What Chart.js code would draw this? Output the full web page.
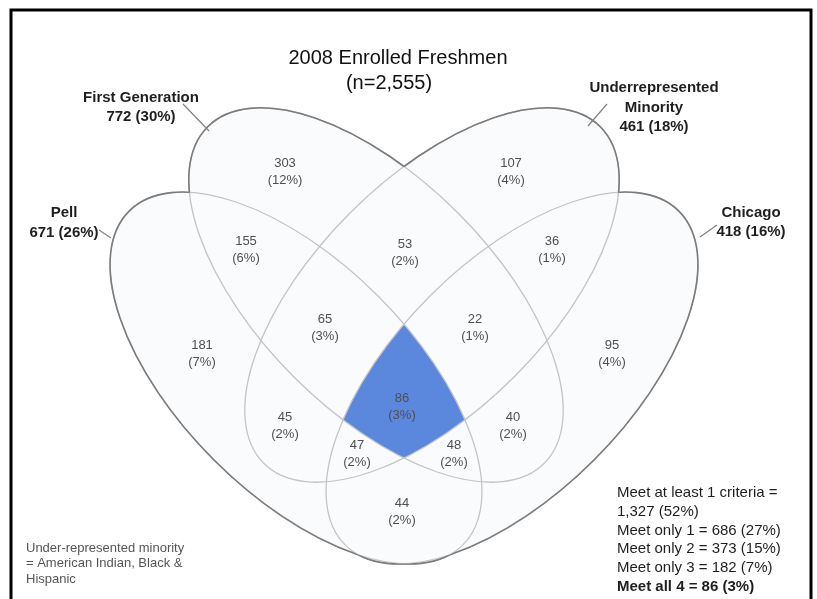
<!DOCTYPE html>
<html>
<head>
<meta charset="utf-8">
<script src="https://cdn.jsdelivr.net/npm/chart.js@4.4.0/dist/chart.umd.min.js"></script>
<style>
  body { margin: 0; background: #fff; }
  #wrap { width: 817px; height: 599px; }
</style>
</head>
<body>
<div id="wrap"><canvas id="venn" width="817" height="599"></canvas></div>
<script>
// 2008 enrolled freshmen, four overlapping groups
const total = 2555;

const setNames = [['Pell'], ['First Generation'], ['Underrepresented', 'Minority'], ['Chicago']];
const setCounts = [671, 772, 461, 418];

// P = Pell, F = First Generation, U = Underrepresented Minority, C = Chicago
const regionNames = ['P', 'F', 'U', 'C', 'PF', 'FU', 'UC', 'PFU', 'FUC', 'PU', 'PFUC', 'FC', 'PUC', 'PFC', 'PC'];
const regionCounts = [181, 303, 107, 95, 155, 53, 36, 65, 22, 45, 86, 40, 47, 48, 44];

const summaryLabels = ['Meet at least 1 criteria', 'Meet only 1', 'Meet only 2', 'Meet only 3', 'Meet all 4'];
const summaryCounts = [1327, 686, 373, 182, 86];

const footnote = ['Under-represented minority', '= American Indian, Black &', 'Hispanic'];

// layout (canvas units, y grows downward)
const regionX = [202, 285, 511, 612, 246, 405, 552, 325, 475, 285, 402, 513, 357, 454, 402];
const regionY = [353, 171, 171, 353, 249, 252, 249, 327, 327, 425, 406, 425, 453, 453, 511];

const ellipses = [
  { cx: 296, cy: 378, rx: 236, ry: 116, rot: 45 },   // Pell
  { cx: 376, cy: 295, rx: 238, ry: 116, rot: 45 },   // First Generation
  { cx: 432, cy: 295, rx: 238, ry: 116, rot: -45 },  // Underrepresented Minority
  { cx: 512, cy: 378, rx: 236, ry: 116, rot: -45 }   // Chicago
];

const setLabelPos = [
  { x: 64, y: [213, 233] },
  { x: 141, y: [98, 117] },
  { x: 654, y: [88, 108, 127] },
  { x: 751, y: [213, 232] }
];
const leaders = [
  [99, 230, 111, 238],
  [183, 104, 209, 131],
  [607, 104, 588, 126],
  [717, 225, 700, 237]
];

const pct = v => Math.round(v / total * 100);
const FONT = '"Liberation Sans", Arial, sans-serif';

function ellipsePath(ctx, chart, e) {
  const xs = chart.scales.x, ys = chart.scales.y;
  const cx = xs.getPixelForValue(e.cx), cy = ys.getPixelForValue(e.cy);
  const rx = Math.abs(xs.getPixelForValue(e.cx + e.rx) - cx);
  const ry = Math.abs(ys.getPixelForValue(e.cy + e.ry) - cy);
  ctx.ellipse(cx, cy, rx, ry, e.rot * Math.PI / 180, 0, Math.PI * 2);
}

const vennPlugin = {
  id: 'venn',
  beforeDatasetsDraw(chart) {
    const ctx = chart.ctx;
    const W = chart.width, H = chart.height;
    ctx.save();
    ctx.fillStyle = '#fff';
    ctx.fillRect(0, 0, W, H);

    // faint fill of the union
    ctx.fillStyle = '#f9fbfc';
    ellipses.forEach(e => { ctx.beginPath(); ellipsePath(ctx, chart, e); ctx.fill(); });

    // all four groups
    ctx.save();
    ellipses.forEach(e => { ctx.beginPath(); ellipsePath(ctx, chart, e); ctx.clip(); });
    ctx.fillStyle = '#5b87dd';
    ctx.fillRect(0, 0, W, H);
    ctx.restore();

    // inner outlines
    ctx.strokeStyle = '#c4c4c4';
    ctx.lineWidth = 1.3;
    ellipses.forEach(e => { ctx.beginPath(); ellipsePath(ctx, chart, e); ctx.stroke(); });

    // outer outline of the union
    ellipses.forEach((e, i) => {
      ctx.save();
      ellipses.forEach((o, j) => {
        if (j === i) return;
        ctx.beginPath();
        ctx.rect(0, 0, W, H);
        ellipsePath(ctx, chart, o);
        ctx.clip('evenodd');
      });
      ctx.strokeStyle = '#7c7c7c';
      ctx.lineWidth = 1.6;
      ctx.beginPath();
      ellipsePath(ctx, chart, e);
      ctx.stroke();
      ctx.restore();
    });

    // leader lines
    ctx.strokeStyle = '#808080';
    ctx.lineWidth = 1.2;
    leaders.forEach(l => {
      ctx.beginPath();
      ctx.moveTo(l[0], l[1]);
      ctx.lineTo(l[2], l[3]);
      ctx.stroke();
    });

    // frame
    ctx.strokeStyle = '#000';
    ctx.lineWidth = 3;
    ctx.strokeRect(11, 10, 800, 640);
    ctx.restore();
  },
  afterDatasetsDraw(chart) {
    const ctx = chart.ctx;
    ctx.save();
    ctx.textAlign = 'center';
    ctx.textBaseline = 'middle';

    // region counts
    ctx.fillStyle = '#505050';
    ctx.font = '13px ' + FONT;
    chart.getDatasetMeta(0).data.forEach((pt, i) => {
      ctx.fillText(String(regionCounts[i]), pt.x, pt.y - 8);
      ctx.fillText('(' + pct(regionCounts[i]) + '%)', pt.x, pt.y + 9);
    });

    // group names
    ctx.fillStyle = '#1e1e1e';
    ctx.font = 'bold 15px ' + FONT;
    setNames.forEach((lines, i) => {
      const pos = setLabelPos[i];
      const all = lines.concat([setCounts[i] + ' (' + pct(setCounts[i]) + '%)']);
      all.forEach((t, k) => ctx.fillText(t, pos.x, pos.y[k]));
    });

    // title
    ctx.fillStyle = '#111';
    ctx.font = '20px ' + FONT;
    ctx.fillText('2008 Enrolled Freshmen', 398, 58);
    ctx.fillText('(n=' + total.toLocaleString('en-US') + ')', 389, 83);

    // summary
    ctx.textAlign = 'left';
    ctx.fillStyle = '#1e1e1e';
    ctx.font = '15px ' + FONT;
    const sx = 617;
    let sy = 493;
    ctx.fillText(summaryLabels[0] + ' =', sx, sy);
    sy += 18.7;
    ctx.fillText(summaryCounts[0].toLocaleString('en-US') + ' (' + pct(summaryCounts[0]) + '%)', sx, sy);
    for (let i = 1; i < summaryLabels.length; i++) {
      sy += 18.7;
      if (i === summaryLabels.length - 1) ctx.font = 'bold 15px ' + FONT;
      ctx.fillText(summaryLabels[i] + ' = ' + summaryCounts[i] + ' (' + pct(summaryCounts[i]) + '%)', sx, sy);
    }

    // footnote
    ctx.fillStyle = '#555';
    ctx.font = '13px ' + FONT;
    footnote.forEach((t, k) => ctx.fillText(t, 26, 548 + k * 15.5));
    ctx.restore();
  }
};

new Chart(document.getElementById('venn'), {
  type: 'scatter',
  data: {
    datasets: [{
      label: 'Freshmen',
      data: regionX.map((x, i) => ({ x: x, y: regionY[i] })),
      pointRadius: 0,
      pointHoverRadius: 0
    }]
  },
  options: {
    responsive: false,
    animation: false,
    events: [],
    layout: { padding: 0 },
    plugins: { legend: { display: false }, tooltip: { enabled: false } },
    scales: {
      x: { type: 'linear', min: 0, max: 817, display: false },
      y: { type: 'linear', min: 0, max: 599, reverse: true, display: false }
    }
  },
  plugins: [vennPlugin]
});
</script>
</body>
</html>
